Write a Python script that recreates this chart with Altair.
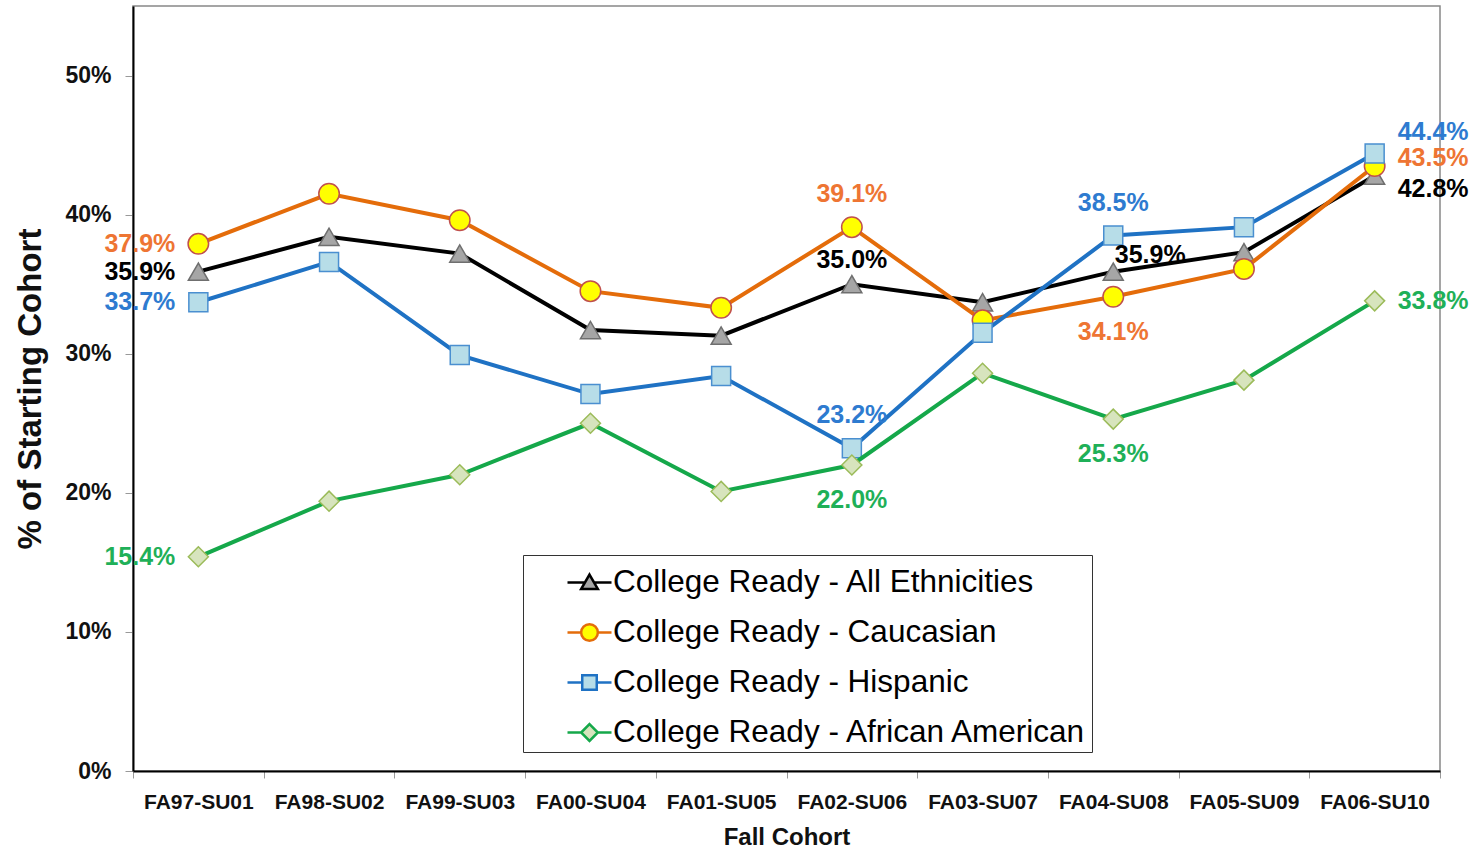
import altair as alt
import pandas as pd

cohorts = ["FA97-SU01", "FA98-SU02", "FA99-SU03", "FA00-SU04", "FA01-SU05",
           "FA02-SU06", "FA03-SU07", "FA04-SU08", "FA05-SU09", "FA06-SU10"]
series_names = ["College Ready - All Ethnicities", "College Ready - Caucasian",
                "College Ready - Hispanic", "College Ready - African American"]
all_eth = [35.9, 38.4, 37.2, 31.7, 31.3, 35.0, 33.7, 35.9, 37.3, 42.8]
caucasian = [37.9, 41.5, 39.6, 34.5, 33.3, 39.1, 32.4, 34.1, 36.1, 43.5]
hispanic = [33.7, 36.6, 29.9, 27.1, 28.4, 23.2, 31.5, 38.5, 39.1, 44.4]
african_american = [15.4, 19.4, 21.3, 25.0, 20.1, 22.0, 28.6, 25.3, 28.1, 33.8]
values = [all_eth, caucasian, hispanic, african_american]

# data labels: (series index, cohort index, placement)
label_series = [0, 1, 2, 3, 1, 0, 2, 3, 2, 0, 1, 3, 2, 1, 0, 3]
label_cohort = [0, 0, 0, 0, 5, 5, 5, 5, 7, 7, 7, 7, 9, 9, 9, 9]
label_place = ["left", "left", "left", "left",
               "above", "above_near", "above", "below",
               "above", "above_right", "below", "below",
               "right_hi", "right_mid", "right_lo", "right"]

# styles
FONT = "Liberation Sans"
line_colors = ["#000000", "#E46C0A", "#1F72C4", "#15A84A"]
marker_fill = ["#A6A6A6", "#FFFF00", "#B7DDE8", "#D7E4BD"]
marker_stroke = ["#6F6F6F", "#C0504D", "#4A8FD0", "#9BBB59"]
marker_shape = ["triangle-up", "circle", "square", "diamond"]
marker_size = [400, 420, 361, 400]
label_colors = ["#000000", "#EE7533", "#2E7BD0", "#1FB058"]
legend_paths = [
    "M-1,0H-0.2M0.2,0H1M0,-0.36L0.38,0.3L-0.38,0.3Z",
    "M-1,0H-0.38M0.38,0H1M0.38,0A0.38,0.38,0,1,1,-0.38,0A0.38,0.38,0,1,1,0.38,0Z",
    "M-1,0H-0.33M0.33,0H1M-0.33,-0.33H0.33V0.33H-0.33Z",
    "M-1,0H-0.38M0.38,0H1M0,-0.38L0.38,0L0,0.38L-0.38,0Z",
]
placements = {
    "left": dict(dx=-23, dy=0, align="right"),
    "right": dict(dx=23, dy=0, align="left"),
    "right_hi": dict(dx=23, dy=-21, align="left"),
    "right_mid": dict(dx=23, dy=-8, align="left"),
    "right_lo": dict(dx=23, dy=13, align="left"),
    "above": dict(dx=0, dy=-33, align="center"),
    "above_near": dict(dx=0, dy=-24, align="center"),
    "below": dict(dx=0, dy=35, align="center"),
    "above_right": dict(dx=37, dy=-17, align="center"),
}

rows = []
for s, vals in zip(series_names, values):
    for c, v in zip(cohorts, vals):
        rows.append({"series": s, "cohort": c, "value": v})
df = pd.DataFrame(rows)

lab_rows = []
for si, ci, p in zip(label_series, label_cohort, label_place):
    v = values[si][ci]
    lab_rows.append({"series": series_names[si], "sidx": si, "cohort": cohorts[ci], "value": v,
                     "text": f"{v:.1f}%", "place": p})
ldf = pd.DataFrame(lab_rows)

x_enc = alt.X("cohort:N", sort=cohorts,
              scale=alt.Scale(type="band", domain=cohorts, paddingInner=0, paddingOuter=0),
              axis=alt.Axis(title="Fall Cohort", labelAngle=0, labelFont=FONT, labelFontSize=21,
                            labelFontWeight="bold", labelColor="#111", labelPadding=13,
                            tickBand="extent", tickSize=7, tickColor="#999", tickWidth=1,
                            domainColor="#000", domainWidth=2, grid=False,
                            titleFont=FONT, titleFontSize=24, titleFontWeight="bold",
                            titleColor="#111", titlePadding=13))
y_enc = alt.Y("value:Q", scale=alt.Scale(domain=[0, 55], nice=False, zero=True),
              axis=alt.Axis(title="% of Starting Cohort", values=[0, 10, 20, 30, 40, 50],
                            labelExpr="datum.value + '%'", labelFont=FONT, labelFontSize=23,
                            labelFontWeight="bold", labelColor="#111", labelPadding=14,
                            tickSize=8, tickColor="#999", tickWidth=1,
                            domainColor="#000", domainWidth=2, grid=False,
                            titleFont=FONT, titleFontSize=33, titleFontWeight="bold",
                            titleColor="#111", titlePadding=17))

base = alt.Chart(df).encode(x=x_enc, y=y_enc)

layers = []
for i, s in enumerate(series_names):
    sub = base.transform_filter(alt.datum.series == s)
    layers.append(sub.mark_line(color=line_colors[i], strokeWidth=4))
    layers.append(sub.mark_point(shape=marker_shape[i], filled=True, fill=marker_fill[i],
                                 stroke=marker_stroke[i], strokeWidth=1.5, size=marker_size[i],
                                 opacity=1))

for (key, si), sub in ldf.groupby(["place", "sidx"]):
    opts = placements[key]
    layers.append(
        alt.Chart(sub).mark_text(baseline="middle", font=FONT, fontSize=25, fontWeight="bold",
                                 color=label_colors[si], **opts)
        .encode(x=x_enc, y=y_enc, text="text:N")
    )

leg = alt.Legend(title=None, orient="none", legendX=390, legendY=549, padding=4, rowPadding=11,
                 symbolSize=1936, symbolStrokeWidth=2.5, symbolOffset=39, labelOffset=0,
                 labelFont=FONT, labelFontSize=31.5, labelColor="#000", labelLimit=1000,
                 strokeColor="#333", fillColor="#ffffff", symbolOpacity=1)
legend_layer = base.transform_filter("false").mark_point(strokeWidth=2.5, filled=False).encode(
    stroke=alt.Stroke("series:N", scale=alt.Scale(domain=series_names, range=line_colors), legend=leg),
    fill=alt.Fill("series:N", scale=alt.Scale(domain=series_names, range=marker_fill), legend=leg),
    shape=alt.Shape("series:N", scale=alt.Scale(domain=series_names, range=legend_paths), legend=leg),
)
layers.append(legend_layer)

chart = alt.layer(*layers).properties(
    width=1307, height=765,
    autosize=alt.AutoSizeParams(type="none"),
    padding={"left": 133, "top": 6, "right": 35, "bottom": 79},
    background="white",
).configure_view(stroke="#888", strokeWidth=1.5)

chart.save("out.html", embed_options={"renderer": "svg", "actions": False})
